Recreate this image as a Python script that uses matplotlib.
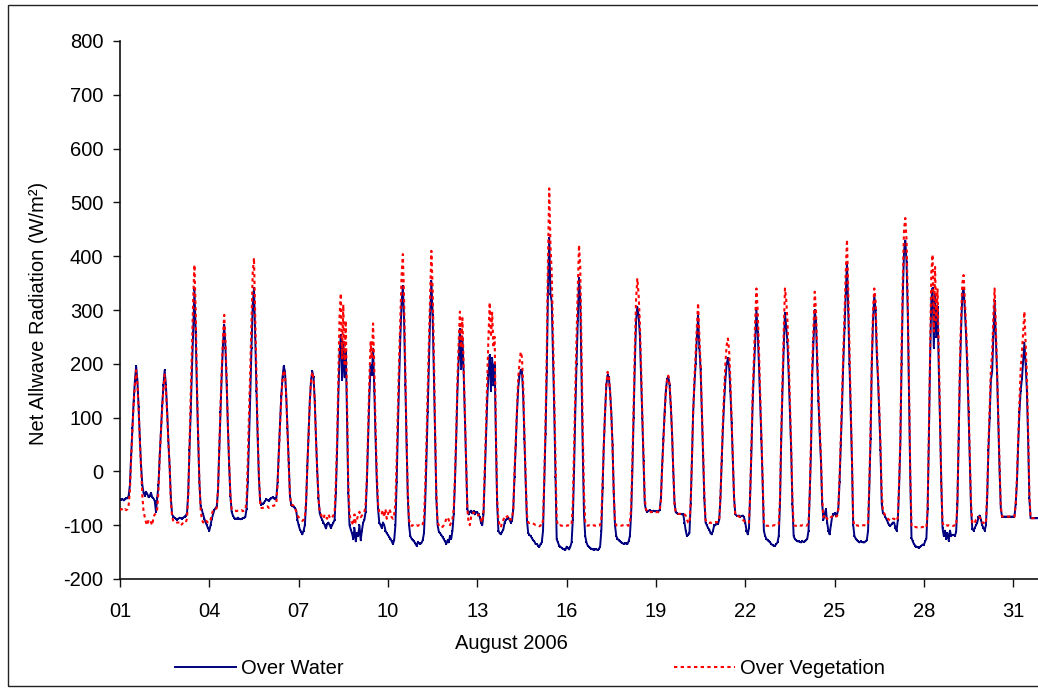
import matplotlib
matplotlib.use('Agg')
import matplotlib.pyplot as plt
import numpy as np
from matplotlib.lines import Line2D
from matplotlib.patches import Rectangle

plt.rcParams['font.family'] = ['Liberation Sans', 'DejaVu Sans']
plt.rcParams['axes.unicode_minus'] = False

# Hourly net allwave radiation (W/m2), one row per day of August 2006, hours 00..23
water = [
    [-52,-53,-51,-54,-52,-50,-50,-45,-25,30,80,130,168,196,170,120,60,10,-25,-40,-45,-38,-42,-48],
    [-45,-40,-48,-50,-55,-75,-50,-25,28,75,122,160,188,160,113,56,9,-50,-80,-84,-86,-88,-90,-88],
    [-86,-87,-88,-86,-84,-82,-78,-40,40,110,190,260,337,260,150,60,-20,-65,-72,-80,-88,-95,-100,-106],
    [-110,-100,-88,-80,-72,-68,-65,-35,40,110,180,235,272,230,160,80,10,-45,-75,-82,-86,-88,-88,-86],
    [-88,-89,-88,-87,-86,-85,-70,-20,60,140,230,310,341,250,150,60,-15,-55,-62,-60,-58,-55,-52,-53],
    [-55,-52,-50,-48,-50,-52,-50,-20,35,90,140,175,196,185,140,80,15,-45,-62,-64,-66,-68,-72,-90],
    [-100,-108,-112,-117,-110,-100,-60,10,70,130,170,186,175,130,60,0,-50,-78,-85,-90,-95,-100,-106,-98],
    [-95,-100,-105,-100,-95,-90,-40,40,140,220,253,170,240,175,225,100,-40,-100,-108,-115,-125,-105,-130,-115],
    [-120,-100,-128,-110,-95,-90,-75,-20,60,140,197,180,228,150,60,-20,-70,-95,-100,-105,-95,-100,-110,-115],
    [-118,-122,-125,-130,-135,-128,-100,-20,80,170,250,315,344,280,160,50,-50,-100,-120,-125,-128,-130,-134,-138],
    [-132,-134,-135,-133,-128,-115,-60,20,110,200,290,354,290,180,60,-50,-100,-112,-115,-118,-122,-126,-130,-135],
    [-128,-132,-120,-125,-110,-80,-20,60,150,210,265,190,250,185,100,20,-70,-80,-75,-73,-78,-74,-80,-76],
    [-76,-80,-85,-95,-100,-80,-10,60,130,180,216,150,210,160,200,60,-60,-110,-115,-117,-112,-108,-95,-90],
    [-88,-86,-90,-95,-92,-70,-10,50,110,155,178,188,186,140,60,-20,-90,-114,-118,-120,-124,-128,-130,-135],
    [-135,-138,-140,-135,-132,-110,-20,70,185,340,434,330,315,216,117,-10,-126,-132,-138,-140,-142,-144,-145,-146],
    [-140,-142,-145,-140,-132,-90,0,110,200,280,359,320,180,40,-80,-120,-132,-138,-140,-142,-144,-145,-146,-145],
    [-145,-146,-144,-140,-110,-30,50,110,160,179,175,150,110,50,-40,-100,-120,-125,-128,-130,-132,-133,-135,-134],
    [-134,-135,-130,-120,-80,0,100,200,280,306,290,255,180,100,20,-60,-72,-75,-73,-72,-74,-75,-73,-74],
    [-74,-75,-74,-72,-50,10,60,110,150,172,176,160,120,70,0,-60,-76,-78,-79,-79,-79,-80,-79,-95],
    [-110,-120,-118,-115,-60,20,110,160,200,250,288,230,190,110,30,-50,-95,-100,-105,-108,-115,-117,-110,-100],
    [-100,-95,-98,-90,-50,20,80,130,170,200,210,195,150,90,20,-50,-80,-82,-83,-82,-84,-83,-82,-85],
    [-95,-110,-117,-105,-40,40,130,190,240,300,260,200,130,60,-20,-110,-120,-125,-128,-130,-132,-135,-137,-138],
    [-138,-135,-132,-120,-60,60,150,230,294,270,240,180,110,40,-60,-120,-126,-128,-130,-130,-131,-132,-130,-131],
    [-130,-128,-125,-110,-40,40,180,240,300,280,200,130,70,20,-60,-90,-80,-70,-95,-110,-117,-100,-85,-80],
    [-78,-82,-80,-70,-20,50,120,200,266,330,389,300,200,110,20,-100,-120,-125,-128,-130,-132,-130,-131,-132],
    [-132,-130,-128,-110,-30,60,200,280,328,300,220,170,110,40,-60,-78,-80,-85,-90,-95,-100,-101,-98,-95],
    [-95,-105,-110,-90,-30,50,200,330,410,429,390,294,141,-10,-123,-130,-135,-138,-140,-141,-142,-140,-138,-136],
    [-136,-130,-125,-70,60,210,320,341,230,330,250,305,190,90,-20,-105,-120,-110,-125,-115,-129,-110,-120,-118],
    [-118,-120,-112,-60,60,180,266,330,341,300,253,191,110,20,-70,-107,-110,-105,-100,-95,-85,-82,-90,-100],
    [-105,-110,-100,-50,40,100,170,185,250,316,250,180,90,0,-70,-84,-84,-84,-84,-84,-84,-84,-84,-84],
    [-84,-84,-60,-20,50,110,150,172,204,238,200,150,60,-50,-87,-87,-87,-87,-87,-87,-87,-87,-87,-87],
]

vegetation = [
    [-72,-70,-71,-73,-70,-72,-70,-62,-35,25,75,125,160,188,165,115,55,5,-45,-75,-85,-95,-100,-90],
    [-90,-95,-100,-85,-80,-78,-70,-35,27,72,117,153,180,153,108,54,9,-55,-85,-92,-95,-96,-95,-95],
    [-95,-100,-98,-95,-96,-95,-88,-45,50,140,230,320,384,300,170,70,-20,-70,-90,-95,-92,-90,-93,-95],
    [-95,-90,-80,-72,-70,-70,-68,-35,45,120,190,250,291,245,170,85,15,-45,-70,-72,-73,-73,-74,-73],
    [-73,-73,-72,-74,-73,-72,-55,20,110,190,280,370,397,290,175,70,-10,-60,-68,-68,-67,-66,-66,-65],
    [-68,-66,-65,-64,-64,-62,-60,-25,30,85,135,170,188,180,140,75,10,-45,-62,-62,-64,-68,-75,-82],
    [-85,-88,-90,-92,-90,-85,-55,10,70,130,168,185,172,130,60,0,-50,-76,-80,-85,-88,-80,-85,-88],
    [-80,-85,-88,-85,-82,-75,-20,60,180,290,331,210,310,200,280,130,-20,-80,-90,-95,-100,-80,-95,-90],
    [-80,-75,-85,-82,-80,-76,-60,-10,80,170,240,210,275,190,80,0,-60,-75,-80,-78,-72,-85,-70,-88],
    [-80,-70,-75,-85,-88,-80,-60,20,120,210,290,365,404,320,190,60,-40,-90,-100,-101,-100,-102,-101,-100],
    [-101,-100,-102,-100,-98,-90,-30,50,150,240,330,410,340,220,80,-40,-95,-100,-104,-104,-103,-100,-95,-88],
    [-85,-90,-100,-95,-88,-70,-10,70,170,240,297,230,285,200,110,20,-70,-95,-100,-85,-80,-76,-80,-82],
    [-82,-80,-85,-90,-95,-75,0,80,170,250,314,250,295,230,250,80,-50,-90,-100,-104,-95,-90,-85,-82],
    [-85,-82,-88,-90,-88,-70,0,60,125,175,200,222,212,160,70,-10,-80,-95,-96,-95,-96,-97,-98,-100],
    [-100,-101,-102,-100,-101,-90,-10,90,220,400,526,420,370,260,140,20,-90,-100,-101,-100,-101,-101,-100,-101],
    [-101,-100,-101,-100,-98,-60,40,150,250,340,421,380,230,80,-40,-95,-100,-101,-100,-101,-100,-101,-100,-101],
    [-101,-100,-101,-100,-90,-20,50,110,160,185,180,150,105,45,-40,-95,-100,-101,-100,-101,-101,-100,-101,-100],
    [-101,-100,-101,-95,-70,20,120,230,320,359,330,280,200,110,30,-50,-70,-75,-76,-75,-76,-75,-76,-75],
    [-76,-75,-76,-74,-55,5,55,105,148,172,178,162,125,70,0,-60,-77,-78,-79,-79,-79,-80,-79,-80],
    [-82,-90,-95,-96,-60,20,110,170,220,270,313,250,200,120,40,-40,-90,-95,-95,-96,-95,-96,-95,-94],
    [-94,-95,-93,-92,-50,25,95,150,200,235,247,225,170,100,25,-50,-82,-82,-83,-84,-85,-88,-90,-92],
    [-94,-95,-96,-95,-40,50,150,210,280,340,300,230,150,70,-10,-95,-101,-101,-101,-101,-100,-101,-101,-100],
    [-100,-101,-100,-98,-50,70,170,260,340,320,280,210,130,50,-50,-100,-101,-101,-100,-101,-100,-101,-100,-101],
    [-100,-101,-100,-95,-40,60,200,270,334,300,220,150,80,30,-50,-85,-80,-85,-88,-90,-88,-85,-84,-82],
    [-85,-84,-83,-70,-10,60,140,220,290,370,431,340,230,120,30,-90,-101,-101,-100,-101,-101,-100,-101,-100],
    [-100,-101,-100,-95,-20,80,210,300,340,320,240,180,120,50,-40,-75,-78,-82,-85,-88,-90,-92,-90,-88],
    [-88,-90,-92,-85,-20,60,230,360,450,471,430,320,160,0,-100,-104,-104,-103,-104,-104,-103,-104,-104,-103],
    [-104,-103,-104,-70,80,240,370,403,260,380,280,340,220,100,-20,-95,-101,-101,-100,-101,-100,-101,-100,-101],
    [-101,-100,-101,-60,70,200,290,350,365,320,270,210,120,30,-60,-95,-98,-95,-90,-88,-85,-85,-90,-95],
    [-95,-98,-95,-40,50,120,190,220,290,340,270,190,100,10,-65,-84,-84,-84,-84,-84,-84,-84,-84,-84],
    [-84,-84,-60,-10,60,130,190,220,260,297,240,180,80,-40,-87,-87,-87,-87,-87,-87,-87,-87,-87,-87],
]

day_ticks = [1, 4, 7, 10, 13, 16, 19, 22, 25, 28, 31]
day_labels = ['01', '04', '07', '10', '13', '16', '19', '22', '25', '28', '31']
y_ticks = [-200, -100, 0, 100, 200, 300, 400, 500, 600, 700, 800]
series_names = ['Over Water', 'Over Vegetation']

w = np.concatenate([np.asarray(d, float) for d in water])
v = np.concatenate([np.asarray(d, float) for d in vegetation])
t = 1 + np.arange(len(w)) / 24.0

W, H = 1038, 688
fig = plt.figure(figsize=(W / 100, H / 100), dpi=100)
ax = fig.add_axes([120 / W, (H - 579) / H, 923 / W, 538 / H])

water_color = '#000080'
veg_color = '#FF0000'
veg_ls = (0, (1.6, 1.6))

ax.plot(t, w, color=water_color, lw=1.4, marker='s', ms=2.0, mew=0, zorder=2)
ax.plot(t, v, color=veg_color, lw=1.5, ls=veg_ls, zorder=3)

ax.set_xlim(1, 32)
ax.set_ylim(-200, 800)
ax.set_xticks(day_ticks)
ax.set_xticklabels(day_labels)
ax.set_yticks(y_ticks)
for s in ['top', 'right']:
    ax.spines[s].set_visible(False)
for s in ['left', 'bottom']:
    ax.spines[s].set_linewidth(1.2)
    ax.spines[s].set_color('#111111')
ax.tick_params(axis='both', direction='out', width=1.0, colors='#111111',
               labelcolor='black', labelsize=14.5)
ax.tick_params(axis='x', length=5.5, pad=11)
ax.tick_params(axis='y', length=5.0, pad=7)

fig.text(38.5 / W, (H - 313) / H, 'Net Allwave Radiation (W/m²)', rotation=90,
         ha='center', va='center', fontsize=14.5)
fig.text(511 / W, (H - 649) / H, 'August 2006', ha='center', va='baseline', fontsize=14.5)

handles = [Line2D([], [], color=water_color, lw=1.4),
           Line2D([], [], color=veg_color, lw=1.5, ls=veg_ls)]
fig.legend(handles=handles, labels=series_names, ncol=2, loc='center left',
           bbox_to_anchor=(175 / W, (H - 669) / H), frameon=False, fontsize=14.5,
           borderpad=0, borderaxespad=0, handlelength=3.03, handletextpad=0.25,
           columnspacing=16.4)

fig.add_artist(Rectangle((8 / W, 2 / H), 1.2, 681 / H, transform=fig.transFigure,
                         fill=False, lw=1.0, ec='#222222'))

fig.savefig('out.png', dpi=100)
